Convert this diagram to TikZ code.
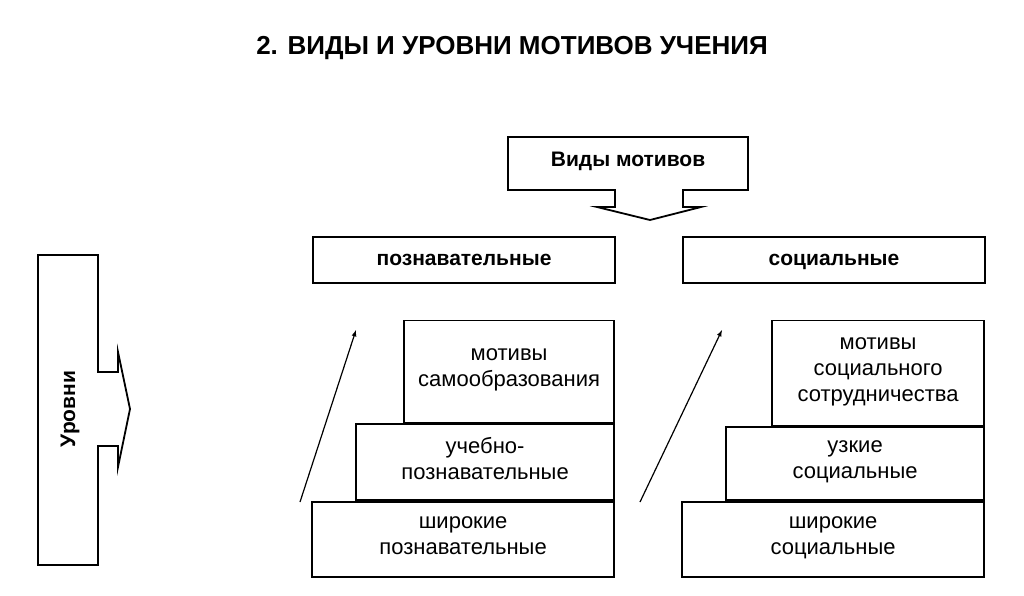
\documentclass[tikz,border=0pt]{standalone}
\usepackage{fontspec}
\setmainfont{Liberation Sans}
\usetikzlibrary{positioning}
\tikzset{
  box/.style={draw,line width=1.8pt,inner sep=0pt,align=center,font=\fontsize{22}{26}\selectfont},
  head/.style={box,font=\fontsize{21}{25}\selectfont\bfseries},
  rise/.style={->,line width=1.2pt,>=latex}
}
\begin{document}
\begin{tikzpicture}[x=1pt,y=-1pt]
    \useasboundingbox (0,0) rectangle (1024,596);
    % Title
    \node[font=\fontsize{26}{28}\selectfont\bfseries] (title) at (512,48) {2. ВИДЫ И УРОВНИ МОТИВОВ УЧЕНИЯ};
    % Types of motives
    \node[font=\fontsize{21}{25}\selectfont\bfseries] (vidy) at (628,161) {Виды мотивов};
    \draw[line width=1.8pt] (615,190) -- (508,190) -- (508,137) -- (748,137) -- (748,190) -- (683,190)
      -- (683,207) -- (701,207) -- (650,220) -- (597,207) -- (615,207) -- cycle;
    \node[head,minimum width=302,minimum height=46] (pozn) at (464,260) {\strut познавательные};
    \node[head,minimum width=302,minimum height=46] (soc) at (834,260) {\strut социальные};
    % Levels
    \draw[line width=1.8pt] (98,372) -- (98,255) -- (38,255) -- (38,565) -- (98,565) -- (98,446)
      -- (118,446) -- (118,467) -- (130,409) -- (118,352) -- (118,372) -- cycle;
    \node[rotate=90,font=\fontsize{21}{25}\selectfont\bfseries] (urovni) at (70,409) {Уровни};
    % Cognitive levels
    \node[box,minimum width=302,minimum height=75,anchor=south east] (pozn1) at (615,578) {широкие\\познавательные\strut};
    \node[box,minimum width=258,minimum height=76,anchor=south east] (pozn2) at (pozn1.north east) {учебно-\\познавательные\strut};
    \node[box,minimum width=210,minimum height=102,anchor=south east] (pozn3) at (pozn2.north east) {мотивы\\самообразования\strut};
    % Social levels
    \node[box,minimum width=302,minimum height=75,anchor=south east] (soc1) at (985,578) {широкие\\социальные\strut};
    \node[box,minimum width=258,minimum height=73,anchor=south east] (soc2) at (soc1.north east) {узкие\\социальные\strut};
    \node[box,minimum width=212,minimum height=105,anchor=south east] (soc3) at (soc2.north east) {мотивы\\социального\\сотрудничества\strut};
    % Arrows
    \coordinate (a1) at (300,502);
    \coordinate (b1) at (356,330);
    \coordinate (a2) at (640,502);
    \coordinate (b2) at (722,330);
    \draw[rise] (a1) -- (b1);
    \draw[rise] (a2) -- (b2);
\end{tikzpicture}
\end{document}
